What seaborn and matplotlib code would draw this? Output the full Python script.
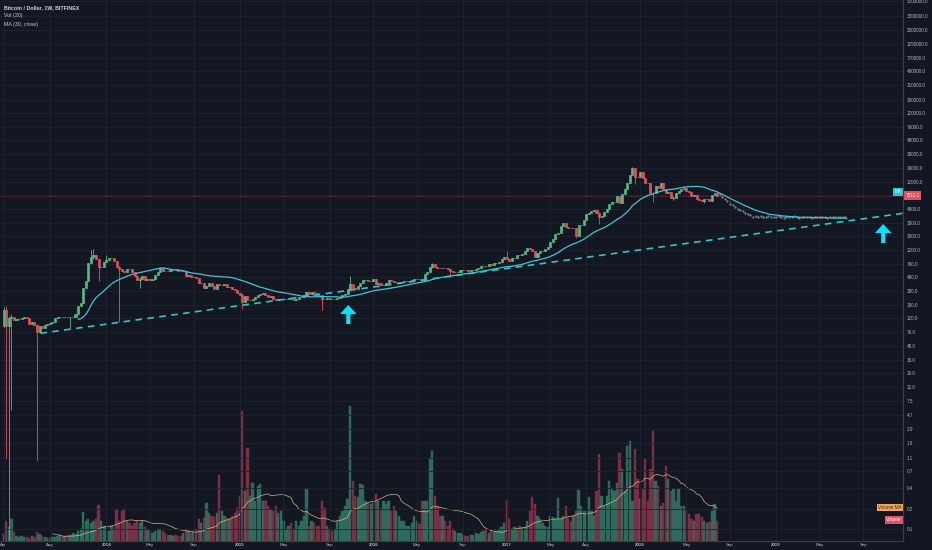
import matplotlib
matplotlib.use("Agg")
import matplotlib.pyplot as plt
import matplotlib.dates as mdates
from matplotlib.ticker import NullLocator
import seaborn as sns
import pandas as pd

# weekly closes (USD), one list per year
close_2013 = [162, 93, 120, 128, 115,
              117, 118, 123, 128,
              121, 100, 107, 95,
              76, 93, 88, 95, 98,
              103, 107, 120, 125,
              127, 126, 127, 124, 125,
              125, 140, 185, 205,
              330, 430, 780, 960,
              1000, 890, 690, 690, 800]
close_2014 = [870, 920, 930, 820,
              690, 640, 600, 570,
              640, 630, 580, 500, 440,
              450, 500, 440, 460,
              445, 450, 520, 580,
              650, 600, 595, 590, 630,
              630, 620, 600, 590,
              590, 500, 510, 480,
              480, 475, 400, 400, 330,
              360, 390, 355, 325,
              380, 375, 375, 380,
              350, 350, 320, 315, 280]
close_2015 = [265, 210, 255, 225,
              225, 235, 245, 260,
              275, 285, 260, 250, 255,
              235, 225, 230, 235,
              235, 235, 240, 230,
              225, 233, 245, 250, 260,
              290, 275, 290, 285,
              265, 260, 230, 228, 240,
              235, 230, 235, 240,
              245, 265, 275, 325,
              380, 330, 325, 360, 390,
              435, 440, 420, 430]
close_2016 = [450, 380, 395, 375,
              375, 400, 435, 430, 410,
              410, 410, 415, 420,
              420, 430, 445, 455,
              460, 455, 445, 530, 575,
              670, 740, 680, 665,
              650, 665, 655, 625,
              590, 570, 575, 575, 605,
              610, 605, 600, 615,
              615, 640, 655, 700, 705,
              700, 740, 735, 765,
              770, 790, 890, 960]
close_2017 = [900, 820, 920, 920, 1020,
              1000, 1050, 1180, 1270,
              1230, 1170, 960, 1080,
              1180, 1180, 1250, 1350,
              1550, 1750, 2050, 2150, 2700,
              2950, 2600, 2550, 2500,
              2500, 1950, 2750, 2750, 3250,
              4100, 4200, 4400, 4600,
              4200, 3700, 3800, 4300,
              4800, 5700, 6000, 6100, 7400,
              5900, 8000, 9300, 11300,
              15000, 19000, 14000, 13900]
close_2018 = [16500, 13800, 11600, 11500, 8200,
              8100, 10400, 9600, 11500,
              9500, 8200, 8500, 6900,
              7000, 8300, 8900, 9300, 9600,
              8700, 8500, 7400, 7700,
              6700, 6500, 6200, 6600,
              6700, 6350, 7700, 8200, 7512.1]

# weekly volume (relative bar heights)
volume_2013 = [7, 20, 14, 22, 9, 5, 4, 5, 4, 4, 3, 5, 4, 9, 7, 5, 4, 3, 3, 4,
               4, 5, 6, 5, 5, 6, 6, 8, 7, 10, 12, 29, 20, 22, 18, 20, 22, 36, 20, 15]
volume_2014 = [15, 10, 15, 12, 32, 20, 30, 32, 20, 18, 15, 18, 20, 18, 20, 14, 12, 10,
               8, 10, 12, 12, 10, 8, 6, 6, 5, 6, 5, 5, 8, 12, 10, 8, 10, 12, 22, 18,
               23, 38, 28, 25, 24, 28, 66, 30, 25, 23, 22, 25, 28, 33]
volume_2015 = [45, 130, 50, 93, 45, 58, 40, 55, 57, 40, 40, 35, 32, 30, 35, 28, 30,
               20, 12, 15, 18, 12, 20, 15, 20, 25, 52, 15, 20, 18, 15, 15, 40, 33,
               15, 12, 10, 12, 20, 25, 30, 35, 42, 135, 60, 45, 44, 57, 56, 40, 38, 37]
volume_2016 = [40, 47, 40, 32, 40, 37, 40, 30, 35, 30, 25, 20, 20, 15, 15, 18, 25,
               20, 17, 40, 40, 40, 83, 90, 45, 35, 25, 25, 20, 15, 20, 12, 10, 8, 8,
               6, 5, 5, 6, 6, 8, 7, 9, 10, 12, 8, 10, 9, 10, 12, 14, 18]
volume_2017 = [41, 22, 12, 14, 12, 15, 13, 14, 20, 30, 44, 37, 25, 22, 18, 15, 14,
               25, 24, 22, 43, 22, 25, 35, 23, 20, 25, 30, 51, 35, 30, 30, 44, 30,
               25, 50, 87, 45, 35, 45, 60, 52, 50, 58, 88, 72, 50, 95, 100, 40, 92, 62]
volume_2018 = [42, 52, 82, 40, 72, 110, 60, 55, 35, 38, 75, 62, 50, 52, 40, 52, 35,
               35, 30, 27, 22, 20, 27, 27, 24, 20, 18, 19, 30, 37, 20]

first_week = "2013-04-01"
first_open = 93

# weeks with visible wicks: date -> (high, low)
wicks = {
    "2013-04-01": (175, 90), "2013-04-08": (180, 1.1), "2013-04-15": (130, 0.05),
    "2013-04-22": (140, 5.5), "2013-07-01": (100, 1.0), "2013-09-30": (128, 87),
    "2013-11-25": (1200, 760), "2013-12-02": (1240, 880), "2013-12-16": (900, 420),
    "2014-01-06": (1000, 860), "2014-02-10": (700, 107), "2014-04-07": (480, 340),
    "2014-06-02": (680, 580), "2015-01-12": (280, 165), "2015-08-17": (260, 162),
    "2015-11-02": (500, 320), "2016-06-13": (780, 660), "2016-08-01": (620, 480),
    "2017-01-02": (1150, 880), "2017-06-05": (3000, 2700), "2017-07-10": (2550, 1800),
    "2017-09-11": (4250, 2900), "2017-12-11": (19900, 14800), "2017-12-18": (19000, 11000),
    "2018-02-05": (8500, 6000), "2018-04-02": (7500, 6400), "2018-06-25": (6800, 5800),
}

# projected (ghost) weekly bars and the hand drawn continuation of the MA
ghost_start = "2018-08-06"
ghost_close = [7800, 7200, 6600, 6200, 5700, 5400, 5100, 4850,
               4600, 4400, 4200, 4000, 3850, 3700, 3800, 3650, 3750,
               3600, 3700, 3800, 3650, 3700, 3600, 3750, 3650, 3550,
               3700, 3600, 3650, 3750, 3600, 3550, 3700, 3650,
               3600, 3700, 3550, 3650, 3600, 3700, 3600, 3650, 3550,
               3650, 3700, 3600, 3650, 3600, 3700, 3650]
curve_dates = ["2018-09-03", "2018-10-10", "2018-11-15", "2018-12-21",
               "2019-01-27", "2019-03-13", "2019-05-16", "2019-07-19"]
curve_prices = [6855, 5470, 4515, 4000, 3776, 3615, 3570, 3497]

trend_dates = ["2013-07-10", "2019-12-19"]
trend_prices = [72.8, 4140]
arrow_dates = ["2015-10-28", "2019-10-26"]
arrow_tops = [189, 2884]
arrow_bottoms = [99.5, 1521]

price_ticks = [5200000, 3200000, 2000000, 1250000, 770000, 490000, 310000, 190000,
               120000, 76000, 48000, 30000, 19000, 12000, 7600, 4800, 3000, 1900,
               1200, 760, 480, 300, 190, 120, 76, 48, 30, 19, 12, 7.5, 4.7, 2.9,
               1.8, 1.1, 0.7, 0.4, 0.2, 0.1]
month_ticks = ["2013-04-01", "2013-08-05", "2014-01-06", "2014-05-05", "2014-09-01",
               "2015-01-05", "2015-05-04", "2015-09-07", "2016-01-04", "2016-05-02",
               "2016-09-05", "2017-01-02", "2017-05-01", "2017-08-07", "2018-01-01",
               "2018-05-07", "2018-09-03", "2019-01-07", "2019-05-06", "2019-09-02"]
month_labels = ["Apr", "Aug", "2014", "May", "Sep", "2015", "May", "Sep", "2016", "May",
                "Sep", "2017", "May", "Aug", "2018", "May", "Sep", "2019", "May", "Sep"]
view_start, view_end = "2013-03-22", "2019-12-19"
price_min, price_max = 0.067, 5.43e6

BG = "#131722"
GRID = "#1f2330"
TICK = "#b2b5be"
UP, DOWN = "#53b987", "#eb4d5c"
VOL_UP, VOL_DOWN = "#2f6b5c", "#7c2f44"
MA_COLOR = "#40c4d6"
TREND = "#36c2c6"
ARROW = "#00e5ff"

sns.set_theme(style="dark", rc={"axes.facecolor": BG, "figure.facecolor": BG,
                                "savefig.facecolor": BG})
plt.rcParams["font.family"] = ["Liberation Sans", "DejaVu Sans"]

closes = close_2013 + close_2014 + close_2015 + close_2016 + close_2017 + close_2018
volumes = volume_2013 + volume_2014 + volume_2015 + volume_2016 + volume_2017 + volume_2018

df = pd.DataFrame({"date": pd.date_range(first_week, periods=len(closes), freq="7D"),
                   "close": closes, "volume": volumes})
df["open"] = [first_open] + closes[:-1]
df["high"] = df[["open", "close"]].max(axis=1)
df["low"] = df[["open", "close"]].min(axis=1)
for d, (h, l) in wicks.items():
    m = df["date"] == pd.Timestamp(d)
    df.loc[m, "high"] = max(h, float(df.loc[m, "high"].iloc[0]))
    df.loc[m, "low"] = min(l, float(df.loc[m, "low"].iloc[0]))
df["x"] = mdates.date2num(df["date"])
df["up"] = df["close"] >= df["open"]
df["ma30"] = df["close"].rolling(30).mean()
df["vol_ma"] = df["volume"].rolling(20).mean()

ghost = pd.DataFrame({"date": pd.date_range(ghost_start, periods=len(ghost_close), freq="7D"),
                      "close": ghost_close})
ghost["open"] = [closes[-1]] + ghost_close[:-1]
ghost["x"] = mdates.date2num(ghost["date"])

fig = plt.figure(figsize=(9.32, 5.5), dpi=100)
rect = [0, 9 / 550, 903 / 932, 541 / 550]
ax_vol = fig.add_axes(rect)
ax = fig.add_axes(rect, sharex=ax_vol)
ax.set_facecolor("none")

# volume overlay
vol_colors = [VOL_UP if u else VOL_DOWN for u in df["up"]]
ax_vol.bar(df["x"], df["volume"], width=6.2, linewidth=0.3, color=vol_colors,
           edgecolor=vol_colors)
sns.lineplot(data=df.dropna(subset=["vol_ma"]), x="x", y="vol_ma", ax=ax_vol,
             color="#d4b48f", linewidth=0.5)
ax_vol.set_ylim(0, df["volume"].max() * 4.0)
ax_vol.set_yticks([])
ax_vol.set_xlabel("")
ax_vol.set_ylabel("")
ax_vol.tick_params(labelbottom=False, bottom=False, left=False)
for s in ax_vol.spines.values():
    s.set_visible(False)

# price pane
ax.set_yscale("log")
candle_colors = [UP if u else DOWN for u in df["up"]]
ax.vlines(df["x"], df["low"], df["high"], colors=candle_colors, linewidth=0.6, zorder=3)
body_lo = df[["open", "close"]].min(axis=1)
body_hi = df[["open", "close"]].max(axis=1)
ax.bar(df["x"], body_hi - body_lo, bottom=body_lo, width=5.6, color=candle_colors,
       edgecolor=candle_colors, linewidth=0.5, zorder=4)

# ghost projection
ax.vlines(ghost["x"], ghost[["open", "close"]].min(axis=1), ghost[["open", "close"]].max(axis=1),
          colors="#7d818c", linewidth=0.6, linestyles=":", zorder=3)
ax.plot(ghost["x"], ghost["close"], ls="none", marker=".", ms=1.3, color="#7d818c", zorder=3)

sns.lineplot(data=df.dropna(subset=["ma30"]), x="x", y="ma30", ax=ax,
             color=MA_COLOR, linewidth=0.9, zorder=5)
curve = pd.DataFrame({"x": [df["x"].iloc[-1]] + list(mdates.date2num(pd.to_datetime(curve_dates))),
                      "price": [df["ma30"].iloc[-1]] + curve_prices})
sns.lineplot(data=curve, x="x", y="price", ax=ax, color=MA_COLOR, linewidth=0.9, zorder=5)

ax.plot(mdates.date2num(pd.to_datetime(trend_dates)), trend_prices, color=TREND,
        linewidth=1.2, linestyle=(0, (4, 3.2)), zorder=5)
ax.axhline(closes[-1], color=DOWN, linewidth=0.5, alpha=0.3, zorder=2)

for d, top, bot in zip(arrow_dates, arrow_tops, arrow_bottoms):
    xd = mdates.date2num(pd.Timestamp(d))
    ax.annotate("", xy=(xd, top), xytext=(xd, bot),
                arrowprops=dict(facecolor=ARROW, edgecolor="none", width=3,
                                headwidth=12, headlength=6.5, shrink=0), zorder=6)

ax.set_xlim(mdates.date2num(pd.Timestamp(view_start)), mdates.date2num(pd.Timestamp(view_end)))
ax.set_ylim(price_min, price_max)
ax.set_xlabel("")
ax.set_ylabel("")

ax.yaxis.tick_right()
ax.set_yticks(price_ticks)
ax.set_yticklabels([f"{v:.1f}" for v in price_ticks])
ax.yaxis.set_minor_locator(NullLocator())
ax.tick_params(axis="y", length=0, pad=2.5, labelsize=3.3, colors=TICK)
ax.set_xticks(mdates.date2num(pd.to_datetime(month_ticks)))
ax.set_xticklabels(month_labels)
ax.tick_params(axis="x", length=0, pad=1.2, labelsize=3.2, colors=TICK)
for lab in ax.get_xticklabels():
    if lab.get_text().isdigit():
        lab.set_fontweight("bold")
ax.grid(True, which="major", color=GRID, linewidth=0.6)
ax.set_axisbelow(True)

for side in ["top", "left"]:
    ax.spines[side].set_visible(False)
for side in ["right", "bottom"]:
    ax.spines[side].set_color("#3a3e4a")
    ax.spines[side].set_linewidth(0.8)

# right-edge labels
ytr = ax.get_yaxis_transform()
ax.text(1.003, closes[-1], f"{closes[-1]:.1f}", transform=ytr, ha="left", va="center",
        fontsize=3.3, color="white", clip_on=False, zorder=10,
        bbox=dict(boxstyle="square,pad=0.35", fc=DOWN, ec="none"))
ax.text(0.9985, df["ma30"].iloc[-1], "MA", transform=ytr, ha="right", va="center",
        fontsize=3.3, color="white", clip_on=False, zorder=10,
        bbox=dict(boxstyle="square,pad=0.3", fc="#26c6da", ec="none"))
ax.text(0.9985, 0.062, "Volume MA", transform=ax.transAxes, ha="right", va="center",
        fontsize=3.3, color="#3a2a14", zorder=10,
        bbox=dict(boxstyle="square,pad=0.3", fc="#f2a660", ec="none"))
ax.text(0.9985, 0.039, "Volume", transform=ax.transAxes, ha="right", va="center",
        fontsize=3.3, color="white", zorder=10,
        bbox=dict(boxstyle="square,pad=0.3", fc="#e2506a", ec="none"))

# legend text, top left
fig.text(4 / 932, 1 - 7.3 / 550, "Bitcoin / Dollar, 1W, BITFINEX", fontsize=3.8,
         color="#d1d4dc", fontweight="bold", va="center")
fig.text(4 / 932, 1 - 15.3 / 550, "Vol (20)", fontsize=3.8, color="#c8cbd3", va="center")
fig.text(4 / 932, 1 - 24.3 / 550, "MA (30, close)", fontsize=3.8, color="#c8cbd3", va="center")

fig.savefig("out.png", dpi=100, facecolor=BG)
